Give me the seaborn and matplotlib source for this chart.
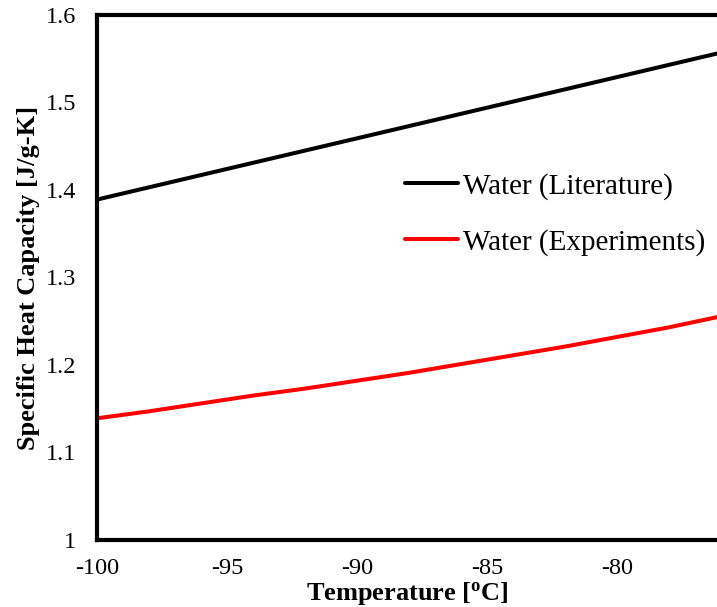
import numpy as np
import pandas as pd
import matplotlib
matplotlib.use("Agg")
import matplotlib.pyplot as plt
import seaborn as sns
from matplotlib.ticker import FuncFormatter

# Literature values for water
lit_temp = [-100, -95, -90, -85, -80, -75]
lit_cp = [1.389, 1.424, 1.459, 1.494, 1.529, 1.564]

# Measured values for water
exp_temp = [-100, -98, -96, -94, -92, -90, -88, -86, -84, -82, -80, -78, -76.1]
exp_cp = [1.139, 1.147, 1.156, 1.165, 1.173, 1.182, 1.191, 1.201, 1.211, 1.221, 1.232, 1.243, 1.255]

series_names = ["Water (Literature)", "Water (Experiments)"]
series_colors = ["black", "#ff0000"]

df = pd.concat([
    pd.DataFrame({"T": lit_temp, "Cp": lit_cp, "series": series_names[0]}),
    pd.DataFrame({"T": exp_temp, "Cp": exp_cp, "series": series_names[1]}),
])

sns.set_theme(style="white")
plt.rcParams["font.family"] = ["Liberation Serif", "DejaVu Serif"]
plt.rcParams["mathtext.fontset"] = "custom"
plt.rcParams["mathtext.rm"] = "Liberation Serif"
plt.rcParams["mathtext.bf"] = "Liberation Serif:bold"
plt.rcParams["axes.unicode_minus"] = False
for key in ["text.color", "axes.labelcolor", "xtick.color", "ytick.color"]:
    plt.rcParams[key] = "black"

fig = plt.figure(figsize=(7.17, 6.07), dpi=100)
ax = fig.add_axes([0.135, 0.1104, 0.865, 0.8649])

sns.lineplot(data=df, x="T", y="Cp", hue="series", hue_order=series_names,
             palette=series_colors, linewidth=2.9, ax=ax, sort=True)

ax.set_xlim(-100, -76.15)
ax.set_ylim(1.0, 1.6)
ax.set_xticks([-100, -95, -90, -85, -80])
ax.set_yticks([1.0, 1.1, 1.2, 1.3, 1.4, 1.5, 1.6])
ax.yaxis.set_major_formatter(FuncFormatter(lambda v, p: f"{v:g}"))
ax.tick_params(direction="in", length=5, width=3, labelsize=17.5)
ax.tick_params(axis="y", pad=15)
ax.tick_params(axis="x", pad=13)

for side in ["left", "bottom", "top"]:
    ax.spines[side].set_linewidth(3)
    ax.spines[side].set_color("black")
ax.spines["right"].set_visible(False)

ax.set_xlabel(r"Temperature [$\mathbf{^o}$C]", fontsize=19, fontweight="bold",
              labelpad=1)
ax.set_ylabel("Specific Heat Capacity [J/g-K]", fontsize=19,
              fontweight="bold", labelpad=4)

ax.legend(title=None, frameon=False, fontsize=21, loc="center left",
          bbox_to_anchor=(0.497, 0.62), borderpad=0, borderaxespad=0,
          handlelength=1.8, handletextpad=0.2, labelspacing=1.0)

fig.savefig("out.png", dpi=100)
